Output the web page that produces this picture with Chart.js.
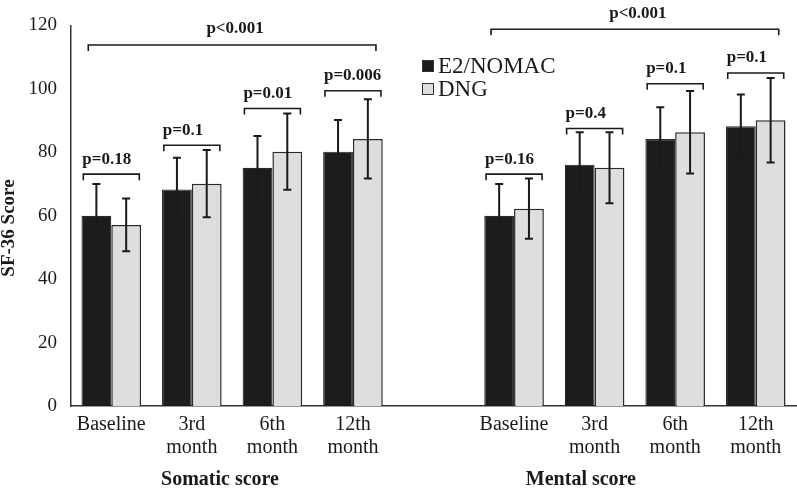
<!DOCTYPE html>
<html>
<head>
<meta charset="utf-8">
<script src="https://cdn.jsdelivr.net/npm/chart.js@4/dist/chart.umd.min.js"></script>
<style>
  html, body { margin: 0; padding: 0; background: #fff; }
  #wrap { width: 797px; height: 488px; }
</style>
</head>
<body>
<div id="wrap"><canvas id="chart"></canvas></div>
<script>
// categories (index 4 is the empty spacer between the two groups)
const categories = ['Baseline', ['3rd', 'month'], ['6th', 'month'], ['12th', 'month'], '',
                    'Baseline', ['3rd', 'month'], ['6th', 'month'], ['12th', 'month']];
const seriesNames = ['E2/NOMAC', 'DNG'];
const e2Mean  = [60, 68.3, 75.1, 80.2, null, 60, 76.1, 84.2, 88.2];
const e2Sd    = [10, 10, 10, 10, null, 10, 10.2, 10, 10];
const dngMean = [57.1, 70.1, 80.2, 84.2, null, 62.2, 75.1, 86.3, 90.1];
const dngSd   = [8.3, 10.6, 12, 12.5, null, 9.5, 11.2, 13, 13.3];
const yTicks  = [0, 20, 40, 60, 80, 100, 120];

// pairwise p-values per time point
const pIndex  = [0, 1, 2, 3, 5, 6, 7, 8];
const pLabels = ['p=0.18', 'p=0.1', 'p=0.01', 'p=0.006', 'p=0.16', 'p=0.4', 'p=0.1', 'p=0.1'];
const pLevel  = [73.1, 82.2, 93.8, 99.4, 73.1, 87.5, 101.6, 105];

// overall p-values per group
const groupNames = ['Somatic score', 'Mental score'];
const groupFrom  = [0, 5];
const groupTo    = [3, 8];
const groupP     = ['p<0.001', 'p<0.001'];
const groupLevel = [113.8, 118.8];

const serif = '"Liberation Serif", "Times New Roman", serif';
const darkFill = '#1c1c1c';
const lightFill = '#dedede';
const ink = '#1a1a1a';

const extras = {
    id: 'extras',
    afterDatasetsDraw(chart) {
        const { ctx, scales: { x, y } } = chart;
        ctx.save();
        ctx.strokeStyle = ink;
        ctx.fillStyle = ink;

        // error bars
        ctx.lineWidth = 2;
        [e2Sd, dngSd].forEach((sd, di) => {
            const meta = chart.getDatasetMeta(di);
            meta.data.forEach((bar, i) => {
                const m = chart.data.datasets[di].data[i];
                if (m == null) return;
                const yt = y.getPixelForValue(m + sd[i]);
                const yb = y.getPixelForValue(m - sd[i]);
                ctx.beginPath();
                ctx.moveTo(bar.x, yt); ctx.lineTo(bar.x, yb);
                ctx.moveTo(bar.x - 4, yt); ctx.lineTo(bar.x + 4, yt);
                ctx.moveTo(bar.x - 4, yb); ctx.lineTo(bar.x + 4, yb);
                ctx.stroke();
            });
        });

        function bracket(x1, x2, yp) {
            ctx.beginPath();
            ctx.moveTo(x1, yp + 6); ctx.lineTo(x1, yp);
            ctx.lineTo(x2, yp); ctx.lineTo(x2, yp + 6);
            ctx.stroke();
        }

        ctx.lineWidth = 1.6;
        ctx.font = 'bold 17px ' + serif;
        ctx.textBaseline = 'middle';

        // pairwise brackets
        pIndex.forEach((idx, k) => {
            const cx = x.getPixelForValue(idx);
            const yp = y.getPixelForValue(pLevel[k]);
            bracket(cx - 28, cx + 28, yp);
            ctx.textAlign = 'left';
            ctx.fillText(pLabels[k], cx - 29, yp - 15);
        });

        // overall brackets
        groupFrom.forEach((from, g) => {
            const x1 = x.getPixelForValue(from) - 23;
            const x2 = x.getPixelForValue(groupTo[g]) + 23;
            const yp = y.getPixelForValue(groupLevel[g]);
            bracket(x1, x2, yp);
            ctx.textAlign = 'center';
            ctx.fillText(groupP[g], (x1 + x2) / 2 + 3, yp - 16);
        });

        // group labels under the axis
        ctx.font = 'bold 20px ' + serif;
        ctx.textAlign = 'center';
        ctx.fillText(groupNames[0], x.getPixelForValue(1.35), 480);
        ctx.fillText(groupNames[1], x.getPixelForValue(5.83), 480);

        // y axis title
        ctx.save();
        ctx.translate(9, 228);
        ctx.rotate(-Math.PI / 2);
        ctx.font = 'bold 19px ' + serif;
        ctx.fillText('SF-36 Score', 0, 0);
        ctx.restore();

        // legend
        ctx.font = '23px ' + serif;
        ctx.textAlign = 'left';
        ctx.lineWidth = 1;
        chart.data.datasets.forEach((ds, i) => {
            const ly = 66 + i * 23;
            ctx.fillStyle = ds.backgroundColor;
            ctx.fillRect(422, ly - 6, 11, 11);
            ctx.strokeStyle = '#333';
            ctx.strokeRect(422.5, ly - 5.5, 11, 11);
            ctx.fillStyle = ink;
            ctx.fillText(ds.label, 438, ly + 1);
        });

        ctx.restore();
    }
};

new Chart(document.getElementById('chart'), {
    type: 'bar',
    data: {
        labels: categories,
        datasets: [
            {
                label: seriesNames[0],
                data: e2Mean,
                backgroundColor: darkFill,
                borderColor: '#2a2a2a',
                borderWidth: 1.2,
                categoryPercentage: 0.74,
                barPercentage: 1.0
            },
            {
                label: seriesNames[1],
                data: dngMean,
                backgroundColor: lightFill,
                borderColor: '#2a2a2a',
                borderWidth: 1.5,
                categoryPercentage: 0.74,
                barPercentage: 1.0
            }
        ]
    },
    plugins: [extras],
    options: {
        responsive: true,
        maintainAspectRatio: false,
        animation: false,
        layout: {
            padding: { top: 22, right: 1, left: 0, bottom: 0 }
        },
        scales: {
            x: {
                grid: { display: false, drawTicks: false },
                border: { display: true, color: '#333', width: 1.5 },
                ticks: {
                    color: ink,
                    padding: 7,
                    maxRotation: 0,
                    autoSkip: false,
                    font: { family: serif, size: 20, lineHeight: 1.15 }
                },
                afterFit: (scale) => { scale.height = 82; }
            },
            y: {
                min: 0,
                max: 120,
                afterBuildTicks: (scale) => { scale.ticks = yTicks.map(v => ({ value: v })); },
                grid: { display: false, drawTicks: false },
                border: { display: true, color: '#333', width: 1.5 },
                ticks: {
                    color: ink,
                    padding: 14,
                    font: { family: serif, size: 19 }
                },
                afterFit: (scale) => { scale.width = 71; }
            }
        },
        plugins: {
            legend: { display: false },
            tooltip: { enabled: false }
        }
    }
});
</script>
</body>
</html>
